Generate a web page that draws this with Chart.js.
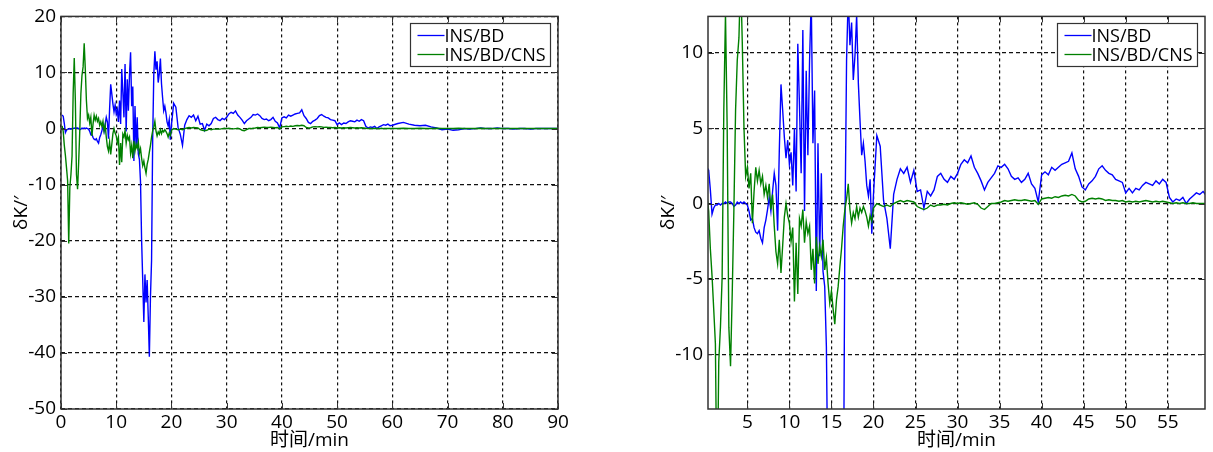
<!DOCTYPE html>
<html>
<head>
<meta charset="utf-8">
<script src="https://cdn.jsdelivr.net/npm/chart.js@4.4.0/dist/chart.umd.min.js"></script>
<style>
  html, body { margin: 0; padding: 0; background: #fff; }
  #wrap { position: relative; width: 1213px; height: 452px; }
  canvas { position: absolute; top: 0; }
  #left { left: 0; }
  #right { left: 647px; }
</style>
</head>
<body>
<div id="wrap">
  <canvas id="left" width="600" height="452"></canvas>
  <canvas id="right" width="566" height="452"></canvas>
</div>
<script>
// time axis (min) in three stretches
const timesA = [
  0.2, 0.4, 0.6, 0.8, 1.0, 1.2, 1.4, 1.6, 1.8, 2.0,
  2.2, 2.4, 2.6, 2.8, 3.0, 3.2, 3.4, 3.6, 3.8, 4.0,
  4.2, 4.4, 4.6, 4.8, 5.0, 5.2, 5.4, 5.6, 5.8, 6.0,
  6.2, 6.4, 6.6, 6.8, 7.0, 7.2, 7.4, 7.6, 7.8, 8.0,
  8.2, 8.4, 8.6, 8.8, 9.0, 9.2, 9.4, 9.6, 9.8, 10.0,
  10.2, 10.4, 10.6, 10.8, 11.0, 11.2, 11.4, 11.6, 11.8, 12.0,
  12.2, 12.4, 12.6, 12.8, 13.0, 13.2, 13.4, 13.6, 13.8, 14.0,
  14.2, 14.4, 14.6, 14.8, 15.0, 15.2, 15.4, 15.6, 15.8, 16.0,
  16.2, 16.4, 16.6, 16.8, 17.0, 17.2, 17.4, 17.6, 17.8, 18.0,
  18.2, 18.4, 18.6, 18.8, 19.0, 19.2, 19.4, 19.6, 19.8, 20.0
]
const timesB = [
  20.4, 20.8, 21.2, 21.6, 22.0, 22.4, 22.8, 23.2, 23.6, 24.0,
  24.4, 24.8, 25.2, 25.6, 26.0, 26.4, 26.8, 27.2, 27.6, 28.0,
  28.4, 28.8, 29.2, 29.6, 30.0, 30.4, 30.8, 31.2, 31.6, 32.0,
  32.4, 32.8, 33.2, 33.6, 34.0, 34.4, 34.8, 35.2, 35.6, 36.0,
  36.4, 36.8, 37.2, 37.6, 38.0, 38.4, 38.8, 39.2, 39.6, 40.0,
  40.4, 40.8, 41.2, 41.6, 42.0, 42.4, 42.8, 43.2, 43.6, 44.0,
  44.4, 44.8, 45.2, 45.6, 46.0, 46.4, 46.8, 47.2, 47.6, 48.0,
  48.4, 48.8, 49.2, 49.6, 50.0, 50.4, 50.8, 51.2, 51.6, 52.0,
  52.4, 52.8, 53.2, 53.6, 54.0, 54.4, 54.8, 55.2, 55.6, 56.0,
  56.4, 56.8, 57.2, 57.6, 58.0, 58.4, 58.8, 59.2, 59.6, 60.0
]
const timesC = [
  61, 62, 63, 64, 65, 66, 67, 68, 69, 70,
  71, 72, 73, 74, 75, 76, 77, 78, 79, 80,
  81, 82, 83, 84, 85, 86, 87, 88, 89, 90
]

// INS/BD  (δK, arcmin)
const insBdA = [
  2.4, 2.2, 0.9, -0.7, -0.3, -0.1, -0.1, 0.0, -0.1, 0.0,
  0.0, 0.1, 0.0, 0.1, 0.1, 0.0, -0.2, -0.1, 0.1, 0.0,
  0.1, 0.0, 0.1, 0.0, -0.1, -0.5, -1.1, -1.0, -1.6, -1.9,
  -2.0, -1.8, -2.3, -2.6, -1.6, -1.1, -0.4, 0.4, -0.5, 0.8,
  2.0, 1.2, -1.8, 3.5, 7.9, 6.2, 4.4, 3.0, 4.2, 2.6,
  3.4, 1.2, 5.0, 0.8, 10.6, 6.5, 2.0, 11.5, -0.5, 8.8,
  3.2, 9.5, 13.6, 4.0, 7.5, -5.8, 4.0, -3.5, 2.0, -4.5,
  -5.5, -9.5, -20.0, -27.0, -34.5, -26.0, -31.0, -27.0, -33.5, -40.7,
  -30.0, -23.5, -2.0, 9.5, 13.8, 10.5, 12.0, 8.2, 9.8, 12.5,
  8.0, 5.5, 3.2, 4.0, 2.8, 1.2, 0.5, 1.6, -2.0, 0.6
]
const insBdB = [
  4.5, 3.8, 0.2, -1.0, -3.0, 0.6, 1.6, 2.3, 2.0, 2.4,
  1.4, 2.2, 0.8, 0.9, -0.3, 0.8, 0.5, 0.9, 1.8, 2.0,
  1.6, 1.4, 1.8, 1.6, 2.0, 2.6, 2.9, 2.7, 3.15, 2.4,
  2.0, 1.5, 0.9, 1.4, 1.7, 2.0, 2.5, 2.4, 2.6, 2.3,
  1.8, 1.6, 1.7, 1.4, 1.6, 2.0, 1.3, 1.0, 0.1, 1.9,
  2.1, 1.9, 2.4, 2.2, 2.4, 2.6, 2.7, 2.8, 3.35, 2.3,
  1.8, 1.1, 0.9, 1.3, 1.5, 1.8, 2.3, 2.5, 2.2, 2.0,
  1.9, 1.6, 1.5, 1.4, 0.7, 1.0, 0.7, 1.0, 0.9, 1.2,
  1.4, 1.3, 1.2, 1.5, 1.3, 1.6, 1.4, 0.4, 0.1, 0.3,
  0.2, 0.4, 0.0, 0.3, 0.5, 0.7, 0.6, 0.8, 0.5, 0.6
]
const insBdC = [
  0.9, 1.1, 0.8, 0.6, 0.5, 0.6, 0.3, 0.1, -0.2, -0.1,
  -0.3, -0.2, 0.0, -0.1, 0.0, 0.1, 0.0, 0.0, 0.1, 0.0,
  0.0, -0.1, 0.0, 0.0, -0.1, 0.0, 0.0, 0.0, 0.0, 0.0
]

// INS/BD/CNS
const insBdCnsA = [
  0.5, -0.5, -3.0, -4.8, -7.0, -9.3, -20.5, -10.5, -8.2, -4.9,
  6.2, 12.6, 5.0, -8.2, -10.8, -6.0, -0.4, 6.2, 9.5, 11.0,
  15.2, 10.6, 5.0, 1.8, 2.4, 1.0, 2.0, -1.3, 0.8, 2.4,
  1.5, 2.2, 1.3, 1.8, 0.6, 1.2, 0.4, 1.3, -0.4, 0.6,
  -1.5, -3.2, -4.0, -2.4, -4.6, -2.8, -0.9, 0.0, -0.8, -1.3,
  -2.5, -1.6, -6.5, -2.6, -6.0, -1.0, -1.5, -0.4, -2.6, -1.2,
  -2.0, -1.5, -4.4, -3.0, -5.3, -2.2, -4.0, -2.8, -3.5, -2.4,
  -4.4, -3.6, -5.3, -6.6, -5.8, -7.0, -8.0, -6.4, -5.5, -4.2,
  -3.0, -1.5, -0.4, 0.3, 1.3, -0.4, -1.3, -0.6, -1.0, -0.2,
  -0.9, -0.3, -0.6, -0.2, -0.5, -0.9, -1.5, -0.8, -1.2, -0.3
]
const insBdCnsB = [
  0.0, -0.1, -0.2, -0.1, -0.2, 0.0, 0.1, 0.2, 0.1, 0.2,
  0.15, 0.1, -0.2, -0.3, -0.4, -0.3, -0.1, -0.2, -0.1, -0.1,
  -0.05, -0.1, 0.0, 0.05, 0.0, 0.05, 0.0, -0.05, 0.0, 0.05,
  -0.05, -0.3, -0.4, -0.2, 0.0, 0.0, 0.05, 0.1, 0.2, 0.15,
  0.2, 0.25, 0.2, 0.2, 0.25, 0.2, 0.15, 0.2, -0.05, 0.3,
  0.35, 0.4, 0.35, 0.45, 0.4, 0.5, 0.55, 0.5, 0.6, 0.5,
  0.2, 0.1, 0.15, 0.3, 0.35, 0.3, 0.35, 0.3, 0.2, 0.25,
  0.2, 0.2, 0.15, 0.2, 0.1, 0.15, 0.1, 0.15, 0.1, 0.15,
  0.2, 0.15, 0.1, 0.15, 0.1, 0.15, 0.1, 0.05, 0.0, 0.05,
  0.0, 0.05, 0.0, 0.0, 0.05, 0.0, 0.0, 0.0, 0.0, 0.0
]
const insBdCnsC = [
  0.0, 0.05, 0.0, 0.0, 0.05, 0.0, 0.0, 0.05, 0.0, 0.0,
  0.0, 0.05, 0.0, 0.0, 0.0, 0.05, 0.0, 0.0, 0.0, 0.0,
  0.0, 0.0, 0.0, 0.0, 0.0, 0.0, 0.0, 0.0, 0.0, 0.0
]

const seriesNames = ["INS/BD", "INS/BD/CNS"]
const leftXTicks = [0, 10, 20, 30, 40, 50, 60, 70, 80, 90]
const leftYTicks = [-50, -40, -30, -20, -10, 0, 10, 20]
const rightXTicks = [5, 10, 15, 20, 25, 30, 35, 40, 45, 50, 55]
const rightYTicks = [-10, -5, 0, 5, 10]

const times = [...timesA, ...timesB, ...timesC]
const insBd = [...insBdA, ...insBdB, ...insBdC]
const insBdCns = [...insBdCnsA, ...insBdCnsB, ...insBdCnsC]

const FONT = "'Open Sans', 'Noto Sans CJK SC', sans-serif"

// MATLAB-ish frame: box, inward ticks, legend inside top-right
const matlabFrame = {
  id: "matlabFrame",
  afterDatasetsDraw(chart) {
    const { ctx, chartArea: a, scales } = chart
    ctx.save()
    ctx.setLineDash([])
    ctx.strokeStyle = "#333"
    ctx.lineWidth = 1
    ctx.beginPath()
    scales.x.ticks.forEach(t => {
      const x = Math.round(scales.x.getPixelForValue(t.value)) + 0.5
      ctx.moveTo(x, a.bottom); ctx.lineTo(x, a.bottom - 6)
      ctx.moveTo(x, a.top); ctx.lineTo(x, a.top + 6)
    })
    scales.y.ticks.forEach(t => {
      const y = Math.round(scales.y.getPixelForValue(t.value)) + 0.5
      ctx.moveTo(a.left, y); ctx.lineTo(a.left + 6, y)
      ctx.moveTo(a.right, y); ctx.lineTo(a.right - 6, y)
    })
    ctx.stroke()
    ctx.lineWidth = 1.5
    ctx.strokeRect(a.left, a.top, a.right - a.left, a.bottom - a.top)

    // legend box
    const w = 140, h = 43
    const bx = Math.round(a.right - 8 - w) + 0.5
    const by = Math.round(a.top + 7) + 0.5
    ctx.fillStyle = "#fff"
    ctx.fillRect(bx, by, w, h)
    ctx.lineWidth = 1.2
    ctx.strokeStyle = "#333"
    ctx.strokeRect(bx, by, w, h)
    ctx.font = "18px " + FONT
    ctx.textBaseline = "middle"
    chart.data.datasets.forEach((ds, i) => {
      const y = by + 12 + i * 19
      ctx.strokeStyle = ds.borderColor
      ctx.lineWidth = 1.3
      ctx.beginPath()
      ctx.moveTo(bx + 7, y); ctx.lineTo(bx + 34, y)
      ctx.stroke()
      ctx.fillStyle = "#000"
      ctx.fillText(ds.label, bx + 34, y + 1)
    })
    ctx.restore()
  }
}

function makeChart(id, xr, yr, xTicks, yTicks, padRight) {
  const ctx = document.getElementById(id).getContext("2d")
  return new Chart(ctx, {
    type: "line",
    data: {
      datasets: [
        { label: seriesNames[0], data: times.map((t, i) => ({ x: t, y: insBd[i] })),
          borderColor: "#0000ff", borderWidth: 1.4, pointRadius: 0, order: 1 },
        { label: seriesNames[1], data: times.map((t, i) => ({ x: t, y: insBdCns[i] })),
          borderColor: "#008000", borderWidth: 1.4, pointRadius: 0, order: 0 }
      ]
    },
    options: {
      responsive: false,
      devicePixelRatio: 1,
      animation: false,
      layout: { padding: { top: 16, right: padRight, left: 0, bottom: 0 } },
      plugins: { legend: { display: false }, tooltip: { enabled: false } },
      scales: {
        x: {
          type: "linear", min: xr[0], max: xr[1],
          afterBuildTicks: s => { s.ticks = xTicks.map(v => ({ value: v })) },
          afterFit: s => { s.height = 43 },
          grid: { color: "#111", lineWidth: 1.2, drawTicks: false },
          border: { display: false, dash: [3, 3] },
          ticks: { padding: 2, color: "#000", font: { family: FONT, size: 19 }, maxRotation: 0 },
          title: { display: true, text: "时间/min", color: "#000",
                   font: { family: FONT, size: 19 }, padding: { top: 0, bottom: 0 } }
        },
        y: {
          type: "linear", min: yr[0], max: yr[1],
          afterBuildTicks: s => { s.ticks = yTicks.map(v => ({ value: v })) },
          afterFit: s => { s.width = 61 },
          grid: { color: "#111", lineWidth: 1.2, drawTicks: false },
          border: { display: false, dash: [4, 3] },
          ticks: { padding: 5, color: "#000", font: { family: FONT, size: 19 } },
          title: { display: true, text: "δK/′", color: "#000",
                   font: { family: FONT, size: 19 }, padding: { top: 10, bottom: 0 } }
        }
      }
    },
    plugins: [matlabFrame]
  })
}

makeChart("left", [0, 90], [-50, 20], leftXTicks, leftYTicks, 42)
makeChart("right", [0.32, 59.43], [-13.63, 12.41], rightXTicks, rightYTicks, 8)
</script>
</body>
</html>
